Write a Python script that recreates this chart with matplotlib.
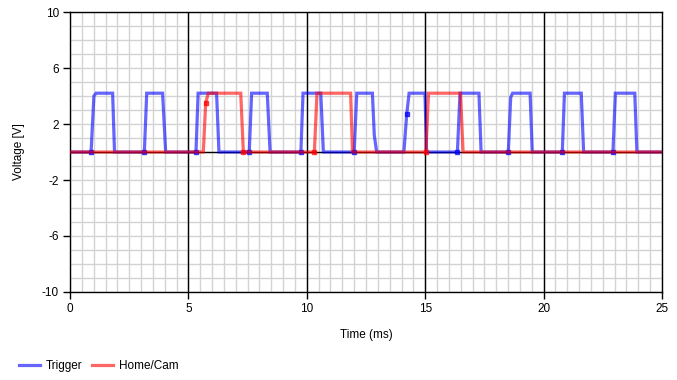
import matplotlib
matplotlib.use("Agg")
import matplotlib.pyplot as plt
from matplotlib.ticker import MultipleLocator, FixedLocator

plt.rcParams['font.family'] = ['Liberation Sans', 'DejaVu Sans']
plt.rcParams['axes.unicode_minus'] = False

# Trigger trace (ms, V), breakpoints
trig_t = [0.00, 0.89, 1.01, 1.10, 1.80, 1.88,
          3.14, 3.24, 3.91, 4.04,
          5.32, 5.41, 6.19, 6.29,
          7.57, 7.67, 8.33, 8.45,
          9.75, 9.84, 10.59, 10.70,
          12.00, 12.11, 12.77, 12.85, 12.95,
          14.10, 14.22, 14.32, 14.99, 15.06,
          16.36, 16.47, 17.27, 17.36,
          18.51, 18.61, 18.69, 19.43, 19.52,
          20.79, 20.88, 21.59, 21.69,
          22.93, 23.03, 23.85, 23.94,
          25.00]
trig_v = [0, 0, 4.0, 4.2, 4.2, 0,
          0, 4.2, 4.2, 0,
          0, 4.2, 4.2, 0,
          0, 4.2, 4.2, 0,
          0, 4.2, 4.2, 0,
          0, 4.2, 4.2, 1.2, 0,
          0, 2.7, 4.2, 4.2, 0,
          0, 4.2, 4.2, 0,
          0, 3.9, 4.2, 4.2, 0,
          0, 4.2, 4.2, 0,
          0, 4.2, 4.2, 0,
          0]

# Home/Cam trace
cam_t = [0.00, 5.63, 5.73, 5.84, 7.21, 7.32,
         10.32, 10.43, 11.85, 11.93,
         15.03, 15.14, 16.49, 16.60, 25.00]
cam_v = [0, 0, 3.5, 4.2, 4.2, 0,
         0, 4.2, 4.2, 0,
         0, 4.2, 4.2, 0, 0]

# sample markers that stand out on the traces
trig_mark_t = [0.89, 3.14, 5.32, 7.57, 9.75, 12.00, 14.22, 16.36, 18.51, 20.79, 22.93]
trig_mark_v = [0, 0, 0, 0, 0, 0, 2.7, 0, 0, 0, 0]
cam_mark_t = [5.73, 7.32, 10.32, 15.03]
cam_mark_v = [3.5, 0, 0, 0]

y_ticks = [10, 6, 2, -2, -6, -10]
x_ticks = [0, 5, 10, 15, 20, 25]

fig = plt.figure(figsize=(6.77, 3.80), dpi=100)
ax = fig.add_axes([70 / 677, 88 / 380, 592 / 677, 280 / 380])

ax.set_xlim(0, 25)
ax.set_ylim(-10, 10)

ax.xaxis.set_major_locator(FixedLocator(x_ticks))
ax.xaxis.set_minor_locator(MultipleLocator(0.5))
ax.yaxis.set_major_locator(FixedLocator(y_ticks))
ax.yaxis.set_minor_locator(MultipleLocator(1))

grey = '#d3d3d3'
ax.xaxis.grid(True, which='both', color=grey, lw=1.0)
ax.yaxis.grid(True, which='both', color=grey, lw=1.0)
ax.set_axisbelow(True)
# major time divisions in black, over the grey grid
for x in x_ticks[1:-1]:
    ax.axvline(x, color='black', lw=1.0, zorder=1)
ax.axhline(0, color='black', lw=1.0, zorder=1)

ax.tick_params(which='minor', length=0)
ax.tick_params(which='major', direction='out', length=5, width=1,
               colors='black', labelsize=8.5, pad=3)

for s in ax.spines.values():
    s.set_color('black')
    s.set_linewidth(1.0)

ax.plot(trig_t, trig_v, color='#0000ff', alpha=0.6, lw=2.3, zorder=2,
        solid_joinstyle='miter', label='Trigger')
ax.plot(trig_mark_t, trig_mark_v, ls='none', marker='s', ms=2.5,
        color='#0000ff', alpha=0.7, zorder=2)
ax.plot(cam_t, cam_v, color='#ff0000', alpha=0.6, lw=2.3, zorder=3,
        solid_joinstyle='miter', label='Home/Cam')
ax.plot(cam_mark_t, cam_mark_v, ls='none', marker='s', ms=2.5,
        color='#ff0000', alpha=0.7, zorder=3)

ax.set_xlabel('Time (ms)', fontsize=8.5, labelpad=10)
ax.set_ylabel('Voltage [V]', fontsize=8.5, labelpad=12)

fig.legend(loc='lower left', bbox_to_anchor=(0.012, -0.008), ncol=2,
           frameon=False, fontsize=8.5, handlelength=1.8, handletextpad=0.5,
           columnspacing=0.8)

fig.savefig('out.png', dpi=100)
